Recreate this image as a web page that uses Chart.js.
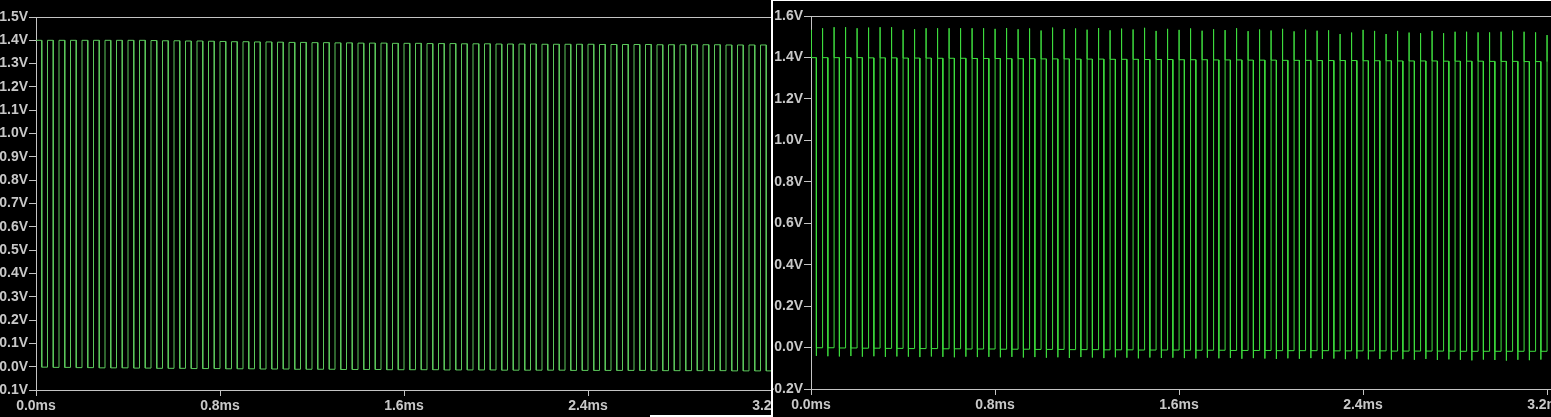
<!DOCTYPE html>
<html>
<head>
<meta charset="utf-8">
<script src="https://cdn.jsdelivr.net/npm/chart.js@4"></script>
<style>
  html, body { margin: 0; padding: 0; background: #000; }
  body { width: 1551px; height: 417px; position: relative; overflow: hidden; }
  .panel { position: absolute; top: 0; height: 417px; overflow: hidden; }
  .panel canvas { position: absolute; left: 0; top: 0; }
  .edge { position: absolute; background: #fff; }
</style>
</head>
<body>
<div class="panel" style="left:0;width:771px"><canvas id="leftChart" width="800" height="417"></canvas></div>
<div class="panel" style="left:773px;width:778px"><canvas id="rightChart" width="800" height="417"></canvas></div>
<div class="edge" style="left:771px;top:0;width:2px;height:417px"></div>
<div class="edge" style="left:771px;top:0;width:780px;height:1px"></div>
<div class="edge" style="left:650px;top:415px;width:121px;height:2px"></div>
<script>
// clock period and high time (ms), one entry per cycle below
const periodMs = 0.05;
const endMs = 3.2;

// left trace: plain square wave
const leftHighMs = 0.025;
const leftHigh = [
  1.400,1.400,1.400,1.400,1.400,1.400,1.400,1.400,1.400,1.400,1.399,1.398,1.398,1.397,1.397,1.396,
  1.395,1.394,1.394,1.393,1.393,1.392,1.391,1.391,1.390,1.390,1.389,1.389,1.388,1.388,1.388,1.387,
  1.387,1.387,1.386,1.386,1.386,1.385,1.385,1.385,1.384,1.384,1.384,1.384,1.383,1.383,1.383,1.383,
  1.383,1.382,1.382,1.382,1.382,1.382,1.381,1.381,1.381,1.381,1.381,1.381,1.380,1.380,1.380,1.380,
  1.380
];
const leftLow = [
  -0.002,-0.003,-0.003,-0.004,-0.004,-0.005,-0.005,-0.005,-0.006,-0.006,-0.007,-0.007,-0.007,-0.008,-0.008,-0.008,
  -0.009,-0.009,-0.009,-0.010,-0.010,-0.010,-0.011,-0.011,-0.011,-0.011,-0.012,-0.012,-0.012,-0.012,-0.013,-0.013,
  -0.013,-0.013,-0.013,-0.014,-0.014,-0.014,-0.014,-0.014,-0.015,-0.015,-0.015,-0.015,-0.015,-0.015,-0.016,-0.016,
  -0.016,-0.016,-0.016,-0.016,-0.016,-0.017,-0.017,-0.017,-0.017,-0.017,-0.017,-0.017,-0.018,-0.018,-0.018,-0.018,
  -0.018
];

// right trace: square wave with overshoot at rising edge, undershoot at falling edge
const rightHighMs = 0.023;
const rightPeak = [
  1.533,1.541,1.546,1.546,1.541,1.544,1.546,1.546,1.533,1.536,1.541,1.541,1.541,1.541,1.541,1.541,
  1.538,1.542,1.536,1.540,1.530,1.544,1.537,1.540,1.534,1.542,1.531,1.539,1.535,1.543,1.528,1.538,
  1.533,1.540,1.529,1.536,1.532,1.541,1.527,1.535,1.530,1.538,1.526,1.534,1.529,1.531,1.513,1.520,
  1.533,1.528,1.513,1.528,1.520,1.517,1.528,1.517,1.524,1.524,1.521,1.521,1.524,1.529,1.524,1.521,
  1.508
];
const rightHigh = [
  1.399,1.399,1.399,1.399,1.399,1.398,1.398,1.398,1.397,1.397,1.397,1.396,1.396,1.396,1.395,1.395,
  1.395,1.394,1.394,1.394,1.393,1.393,1.393,1.392,1.392,1.392,1.391,1.391,1.391,1.390,1.390,1.390,
  1.389,1.389,1.389,1.388,1.388,1.388,1.387,1.387,1.387,1.386,1.386,1.386,1.385,1.385,1.385,1.385,
  1.384,1.384,1.384,1.383,1.383,1.383,1.383,1.382,1.382,1.382,1.382,1.381,1.381,1.381,1.380,1.380,
  1.380
];
const rightDip = [
  -0.040,-0.042,-0.043,-0.041,-0.044,-0.042,-0.045,-0.043,-0.044,-0.046,-0.043,-0.045,-0.047,-0.044,-0.046,-0.045,
  -0.047,-0.045,-0.048,-0.046,-0.049,-0.047,-0.050,-0.046,-0.048,-0.051,-0.047,-0.049,-0.052,-0.048,-0.050,-0.049,
  -0.051,-0.053,-0.049,-0.052,-0.050,-0.054,-0.051,-0.053,-0.055,-0.052,-0.054,-0.051,-0.055,-0.053,-0.056,-0.054,
  -0.057,-0.055,-0.058,-0.056,-0.059,-0.055,-0.060,-0.057,-0.059,-0.062,-0.058,-0.060,-0.063,-0.059,-0.061,-0.058,
  -0.060
];
const rightLow = [
  -0.001,-0.001,-0.002,-0.002,-0.003,-0.003,-0.004,-0.004,-0.005,-0.005,-0.005,-0.006,-0.006,-0.007,-0.007,-0.007,
  -0.008,-0.008,-0.008,-0.009,-0.009,-0.009,-0.010,-0.010,-0.010,-0.011,-0.011,-0.011,-0.012,-0.012,-0.012,-0.012,
  -0.013,-0.013,-0.013,-0.013,-0.014,-0.014,-0.014,-0.014,-0.015,-0.015,-0.015,-0.015,-0.015,-0.016,-0.016,-0.016,
  -0.016,-0.016,-0.017,-0.017,-0.017,-0.017,-0.017,-0.017,-0.018,-0.018,-0.018,-0.018,-0.018,-0.018,-0.018,-0.018,
  -0.018
];

// axis ticks
const timeTicks = [0, 0.8, 1.6, 2.4, 3.2];
const leftVoltStep = 0.1;
const rightVoltStep = 0.2;

const gridGrey = '#c4c4c4';
const textGrey = '#c8c8c8';
const labelFont = { family: 'Liberation Sans', size: 14, weight: 'bold' };

function buildWave(high, low, highMs, peak, dip) {
  const pts = [];
  for (let i = 0; i < high.length; i++) {
    const t0 = i * periodMs;
    if (t0 > endMs + 1e-9) break;
    if (i > 0) pts.push({ x: t0, y: low[i - 1] });
    pts.push({ x: t0, y: peak ? peak[i] : high[i] });
    if (peak) pts.push({ x: t0 + 0.0008, y: high[i] });
    const tf = t0 + highMs;
    if (tf >= endMs) { pts.push({ x: endMs, y: high[i] }); break; }
    pts.push({ x: tf, y: high[i] });
    pts.push({ x: tf, y: dip ? dip[i] : low[i] });
    if (dip) pts.push({ x: tf + 0.0008, y: low[i] });
  }
  return pts;
}

const framePlugin = {
  id: 'frame',
  beforeDatasetsDraw(chart) {
    const a = chart.chartArea, c = chart.ctx;
    c.save();
    c.strokeStyle = gridGrey;
    c.lineWidth = 1;
    c.strokeRect(Math.round(a.left) + 0.5, Math.round(a.top) + 0.5,
      Math.round(a.right - a.left), Math.round(a.bottom - a.top));
    c.restore();
  }
};

function fmt(v) {
  if (Math.abs(v) < 1e-9) v = 0;
  return v.toFixed(1);
}

function makeChart(id, pts, color, yMin, yMax, yStep, yWidth, topPad, xHeight, rightPad) {
  return new Chart(document.getElementById(id), {
    type: 'line',
    data: {
      datasets: [{
        data: pts,
        borderColor: color,
        borderWidth: 1,
        pointRadius: 0,
        tension: 0,
        fill: false
      }]
    },
    options: {
      responsive: false,
      animation: false,
      parsing: false,
      normalized: true,
      layout: { padding: { top: topPad, right: rightPad, left: 0, bottom: 0 } },
      plugins: { legend: { display: false }, tooltip: { enabled: false } },
      scales: {
        x: {
          type: 'linear',
          min: 0,
          max: 3.3,
          afterFit(s) { s.height = xHeight; },
          afterBuildTicks(s) { s.ticks = timeTicks.map(v => ({ value: v })); },
          ticks: {
            autoSkip: false, maxRotation: 0, color: textGrey, font: labelFont, padding: 2,
            callback: v => fmt(v) + 'ms'
          },
          grid: { drawOnChartArea: false, drawTicks: true, tickLength: 6, color: gridGrey },
          border: { display: false }
        },
        y: {
          type: 'linear',
          min: yMin,
          max: yMax,
          afterFit(s) { s.width = yWidth; },
          ticks: {
            stepSize: yStep, color: textGrey, font: labelFont, padding: 1,
            callback: v => fmt(v) + 'V'
          },
          grid: { drawOnChartArea: false, drawTicks: true, tickLength: 7, color: gridGrey },
          border: { display: false }
        }
      }
    },
    plugins: [framePlugin]
  });
}

makeChart('leftChart', buildWave(leftHigh, leftLow, leftHighMs), '#5cc85c',
  -0.1, 1.5, leftVoltStep, 36, 17, 27, 5);
makeChart('rightChart', buildWave(rightHigh, rightLow, rightHighMs, rightPeak, rightDip), '#3ede3e',
  -0.2, 1.6, rightVoltStep, 38, 16, 28, 3);
</script>
</body>
</html>
